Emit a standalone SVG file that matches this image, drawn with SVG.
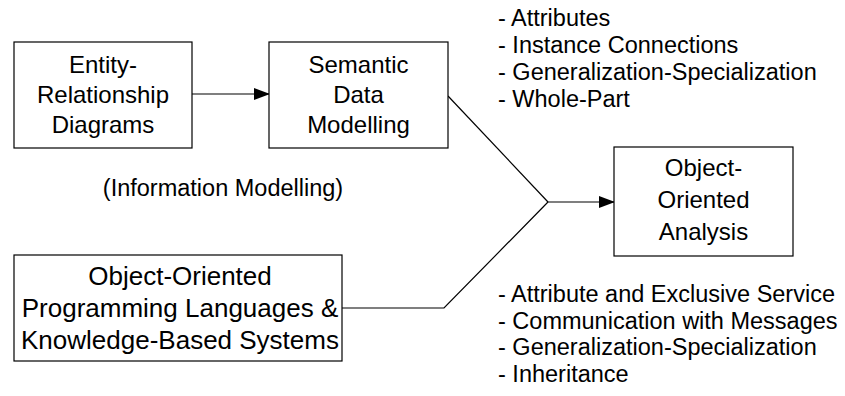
<svg xmlns="http://www.w3.org/2000/svg" width="845" height="396" viewBox="0 0 845 396">
<style>
.box{fill:#fff;stroke:#000;stroke-width:1.2}
.t{font-family:"Liberation Sans",Arial,sans-serif;font-size:23.5px;fill:#000}
.c{text-anchor:middle}
.b24{font-size:24px}
.b26{font-size:26px}
.ln{fill:none;stroke:#000;stroke-width:1.2}
</style>
<defs>
<marker id="ah" markerWidth="16" markerHeight="12" refX="15" refY="6" orient="auto" markerUnits="userSpaceOnUse">
<path d="M0,0 L16,6 L0,12 Z" fill="#000"/>
</marker>
</defs>
<rect width="845" height="396" fill="#fff"/>
<g id="connectors">
<line class="ln" x1="192" y1="94" x2="269" y2="94" marker-end="url(#ah)"/>
<polyline class="ln" points="448,96 548,202"/>
<line class="ln" x1="548" y1="202" x2="614" y2="202" marker-end="url(#ah)"/>
<polyline class="ln" points="342,308 444,308 548,202"/>
</g>
<g id="er">
<rect class="box" x="14" y="42" width="178" height="106"/>
<text class="t c b24" x="103" y="73">Entity-</text>
<text class="t c b24" x="103" y="103">Relationship</text>
<text class="t c b24" x="103" y="133">Diagrams</text>
</g>
<g id="sdm">
<rect class="box" x="269" y="42" width="179" height="106"/>
<text class="t c b24" x="358.5" y="73">Semantic</text>
<text class="t c b24" x="358.5" y="103">Data</text>
<text class="t c b24" x="358.5" y="133">Modelling</text>
</g>
<g id="ooa">
<rect class="box" x="614" y="147" width="179" height="109"/>
<text class="t c b24" x="703.5" y="176">Object-</text>
<text class="t c b24" x="703.5" y="208">Oriented</text>
<text class="t c b24" x="703.5" y="240">Analysis</text>
</g>
<g id="oopl">
<rect class="box" x="14" y="255" width="328" height="106"/>
<text class="t c b26" x="180" y="285">Object-Oriented</text>
<text class="t c b26" x="180" y="317">Programming Languages &amp;</text>
<text class="t c b26" x="180" y="349">Knowledge-Based Systems</text>
</g>
<g id="info">
<text class="t c" x="223" y="196">(Information Modelling)</text>
</g>
<g id="list-top">
<text class="t" x="498" y="26">- Attributes</text>
<text class="t" x="498" y="53">- Instance Connections</text>
<text class="t" x="498" y="80">- Generalization-Specialization</text>
<text class="t" x="498" y="107">- Whole-Part</text>
</g>
<g id="list-bottom">
<text class="t" x="498" y="302">- Attribute and Exclusive Service</text>
<text class="t" x="498" y="329">- Communication with Messages</text>
<text class="t" x="498" y="355">- Generalization-Specialization</text>
<text class="t" x="498" y="382">- Inheritance</text>
</g>
</svg>
